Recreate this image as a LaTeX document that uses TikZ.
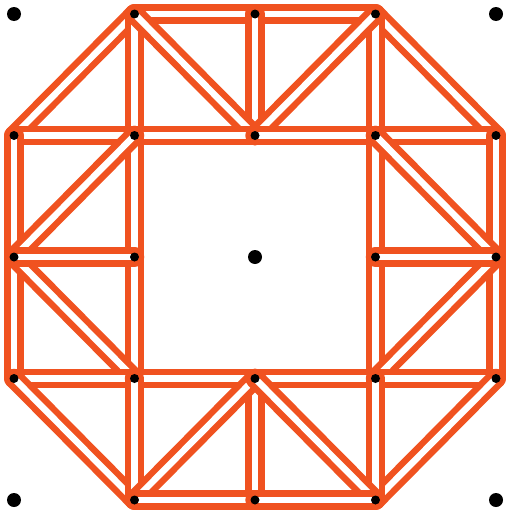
\documentclass[tikz,border=0pt]{standalone}
\definecolor{bar}{RGB}{240,82,32}
\begin{document}
\begin{tikzpicture}[x=1pt,y=-1pt,
  barstyle/.style={draw=bar,double=white,line width=6.5pt,double distance=6.5pt,line cap=round,line join=round},
  bigdot/.style={circle,fill=black,inner sep=0pt,minimum size=14pt},
  smalldot/.style={circle,fill=black,inner sep=0pt,minimum size=9pt}]
\useasboundingbox (0,0) rectangle (508,514);
% grid coordinates
\foreach \i in {0,...,4}{
  \foreach \j in {0,...,4}{
    \coordinate (p\i\j) at ({14+120.5*\i},{14+121.5*\j});
  }
}
% bars
\foreach \a/\b in {
  10/20, 20/30, 10/01, 30/41, 10/11, 20/21, 30/31, 10/21, 30/21,
  01/11, 11/21, 21/31, 31/41,
  01/02, 02/03, 11/12, 12/13, 11/02, 02/13, 02/12,
  41/42, 42/43, 31/32, 32/33, 31/42, 42/33, 32/42,
  03/13, 13/23, 23/33, 33/43,
  03/14, 43/34, 13/14, 23/24, 33/34, 23/14, 23/34, 14/24, 24/34}{
  \draw[barstyle] (p\a) -- (p\b);
}
% dots
\foreach \c in {00,40,04,44,22}{
  \node[bigdot] (d\c) at (p\c) {};
}
\foreach \c in {10,20,30,01,11,21,31,41,02,12,32,42,03,13,23,33,43,14,24,34}{
  \node[smalldot] (d\c) at (p\c) {};
}
\end{tikzpicture}
\end{document}
